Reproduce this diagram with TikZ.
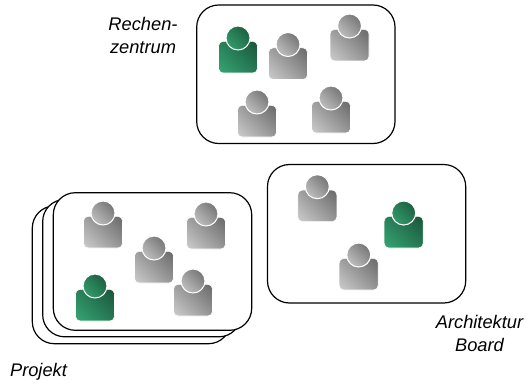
\documentclass[tikz,border=0pt]{standalone}
\usepackage{fontspec}
\setmainfont{Liberation Sans}
\pgfdeclarehorizontalshading{grayfade}{100bp}{rgb(0bp)=(0.80,0.80,0.80); rgb(15bp)=(0.80,0.80,0.80); rgb(85bp)=(0.41,0.41,0.41); rgb(100bp)=(0.41,0.41,0.41)}
\pgfdeclarehorizontalshading{greenfade}{100bp}{rgb(0bp)=(0.21,0.65,0.45); rgb(15bp)=(0.21,0.65,0.45); rgb(85bp)=(0.10,0.33,0.23); rgb(100bp)=(0.10,0.33,0.23)}
\tikzset{every picture/.style={line width=0.75pt}}
\tikzset{
  groupbox/.style={draw=black,fill=white,line width=0.9pt,rounded corners=16.5pt},
  grayshade/.style={shading=grayfade,shading angle=45},
  greenshade/.style={shading=greenfade,shading angle=45},
  label/.style={inner sep=0pt,align=center,font=\fontsize{13.7}{17.25}\selectfont\itshape}
}
% body and head of one person, head centre at (#1,#2)
\newcommand{\person}[3]{
  \path[#3,draw=white,line width=0.4pt,rounded corners=3.5pt] (#1-19.5,#2+3.3) rectangle (#1+19.5,#2+35);
  \path[#3,draw=white,line width=0.8pt] (#1,#2) circle (12);
}

\begin{document}
\begin{tikzpicture}[x=0.75pt,y=0.75pt,yscale=-1,xscale=1]
    \useasboundingbox (0,0) rectangle (528,385);

    %Shape: Rechenzentrum box
    \draw[groupbox] (196.7,5) rectangle (395,143.5);
    \person{238}{38}{greenshade}
    \foreach \px/\py in {288/44.5,349.5/26,257/102,331/98}
      {\person{\px}{\py}{grayshade}}

    %Shape: Projekt stack
    \draw[groupbox] (32.3,206) rectangle (230.5,343.7);
    \draw[groupbox] (42.7,199.5) rectangle (241,336.8);
    \draw[groupbox] (53.3,192.7) rectangle (251.7,330.3);
    \person{95}{286}{greenshade}
    \foreach \px/\py in {103/213,206/214,154/248,193/281}
      {\person{\px}{\py}{grayshade}}

    %Shape: Architektur Board box
    \draw[groupbox] (267.5,164.5) rectangle (465.7,303);
    \person{403.7}{213}{greenshade}
    \foreach \px/\py in {317.3/186.7,358.7/255}
      {\person{\px}{\py}{grayshade}}

    % Text Node
    \node[label] (rechenzentrum) at (143,35.5) {Rechen-\\zentrum};
    % Text Node
    \node[label] (architektur) at (479.5,333) {Architektur\\Board};
    % Text Node
    \node[label] (projekt) at (38.5,372) {Projekt};
\end{tikzpicture}
\end{document}
